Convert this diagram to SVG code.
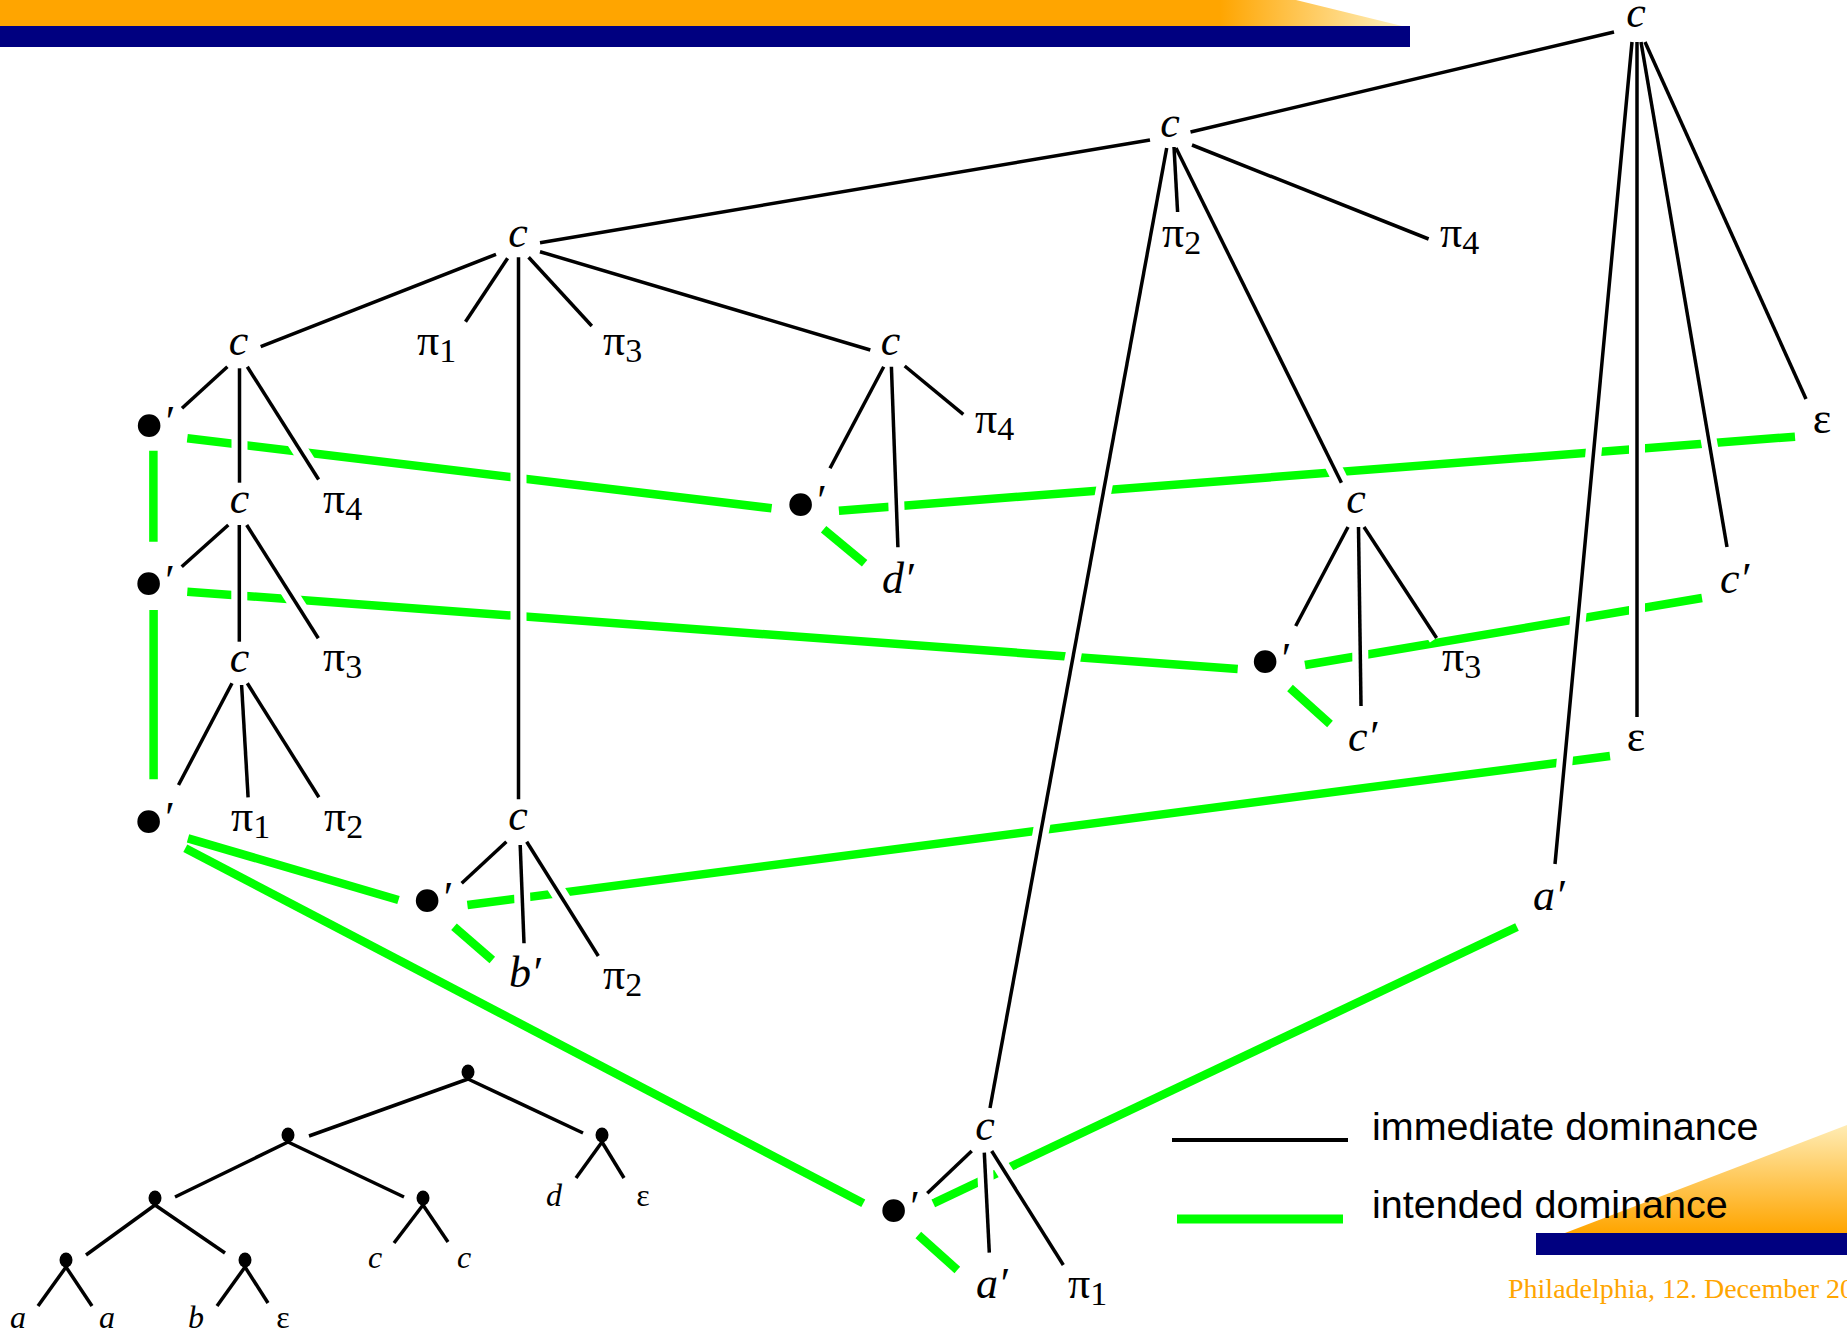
<svg xmlns="http://www.w3.org/2000/svg" xmlns:xlink="http://www.w3.org/1999/xlink" width="1847" height="1333" viewBox="0 0 1847 1333">
<style>
.e{stroke:#000;stroke-width:3.5;fill:none}
.h{stroke:#fff;stroke-width:16;fill:none}
.g{stroke:#00ff00;stroke-width:8.5;fill:none}
.k{stroke:#000;stroke-width:3.5;fill:none}
.t{font-family:"Liberation Serif","Times New Roman",serif;font-size:44px;fill:#000}
.i{font-style:italic}
.s{font-size:34px}
.b{font-size:95px}
.m{font-family:"Liberation Serif","Times New Roman",serif;font-size:32px;fill:#000}
.leg{font-family:"Liberation Sans",Arial,sans-serif;font-size:39.5px;fill:#000}
.foot{font-family:"Liberation Serif","Times New Roman",serif;font-size:28px;fill:#FFA500}
</style>
<defs>
<linearGradient id="topg" x1="0" y1="0" x2="1410" y2="0" gradientUnits="userSpaceOnUse">
<stop offset="0" stop-color="#FFA500"/><stop offset="0.865" stop-color="#FFA500"/><stop offset="1" stop-color="#FFF4C8"/>
</linearGradient>
<linearGradient id="botg" x1="0" y1="1125" x2="0" y2="1233" gradientUnits="userSpaceOnUse">
<stop offset="0" stop-color="#FFECB4"/><stop offset="1" stop-color="#FFA500"/>
</linearGradient>
<g id="blk">
<line x1="1614" y1="32" x2="1190.5" y2="132"/>
<line x1="1632" y1="42" x2="1555" y2="864"/>
<line x1="1637" y1="42" x2="1637" y2="717"/>
<line x1="1641" y1="42" x2="1727" y2="547"/>
<line x1="1645" y1="42" x2="1806" y2="399"/>
<line x1="1150" y1="140" x2="540" y2="242.7"/>
<line x1="1174" y1="147" x2="1177.6" y2="212"/>
<line x1="1166.7" y1="148" x2="990" y2="1108"/>
<line x1="1176" y1="148" x2="1341.4" y2="482.7"/>
<line x1="1192" y1="145" x2="1428.6" y2="239"/>
<line x1="496" y1="254.3" x2="260.7" y2="346.7"/>
<line x1="507.6" y1="258.3" x2="465.5" y2="321.7"/>
<line x1="518.5" y1="257.3" x2="518.5" y2="799.3"/>
<line x1="528.6" y1="257.3" x2="591.8" y2="326"/>
<line x1="540" y1="251.7" x2="870.3" y2="350"/>
<line x1="227.4" y1="366.7" x2="182" y2="408.3"/>
<line x1="239.5" y1="368.3" x2="239.5" y2="482.7"/>
<line x1="247.3" y1="366.7" x2="318.6" y2="479.5"/>
<line x1="228.3" y1="525" x2="181.7" y2="566.7"/>
<line x1="239.3" y1="525" x2="239.3" y2="641.7"/>
<line x1="246.7" y1="525" x2="318.3" y2="638.3"/>
<line x1="232" y1="683.3" x2="178.5" y2="785"/>
<line x1="241.6" y1="685" x2="248.1" y2="797.3"/>
<line x1="247.3" y1="683.3" x2="318.9" y2="797.3"/>
<line x1="506.4" y1="841.7" x2="461.7" y2="883.3"/>
<line x1="520.2" y1="845" x2="524" y2="943.3"/>
<line x1="526.7" y1="841.7" x2="598.3" y2="956"/>
<line x1="883.7" y1="366.7" x2="830" y2="468.3"/>
<line x1="891.4" y1="366.7" x2="897.9" y2="547.3"/>
<line x1="904.7" y1="366" x2="963.3" y2="414.3"/>
<line x1="1348" y1="527" x2="1295.7" y2="626"/>
<line x1="1358.5" y1="527" x2="1361" y2="706"/>
<line x1="1364" y1="527" x2="1436.6" y2="638"/>
<line x1="971.7" y1="1151" x2="927.3" y2="1193.3"/>
<line x1="984.3" y1="1152.7" x2="989.3" y2="1252.7"/>
<line x1="991.7" y1="1151" x2="1063.3" y2="1265"/>
</g>
</defs>

<g id="decoration">
<polygon points="0,0 1296,0 1402,26 0,26" fill="url(#topg)"/>
<rect x="0" y="26" width="1410" height="21" fill="#000080"/>
<polygon points="1565,1233 1847,1125 1847,1233" fill="url(#botg)"/>
<rect x="1536" y="1233" width="311" height="22" fill="#000080"/>
</g>

<g id="connectors">
<g class="g">
<line x1="187.3" y1="438.3" x2="771.6" y2="508.3"/>
<line x1="838.9" y1="510.7" x2="1795" y2="436.7"/>
<line x1="823.6" y1="529.3" x2="864.6" y2="563.3"/>
<line x1="153.4" y1="450.7" x2="153.4" y2="541.7"/>
<line x1="187.3" y1="591.7" x2="1237.7" y2="669"/>
<line x1="1305" y1="665" x2="1702" y2="598"/>
<line x1="1290" y1="688" x2="1330" y2="724"/>
<line x1="153.6" y1="610" x2="153.6" y2="779.3"/>
<line x1="188" y1="838.3" x2="398.5" y2="900"/>
<line x1="185.3" y1="848.3" x2="863.3" y2="1203.3"/>
<line x1="467.4" y1="905" x2="1610" y2="756"/>
<line x1="454" y1="926.7" x2="492.3" y2="960"/>
<line x1="933.3" y1="1203.3" x2="1517" y2="927"/>
<line x1="918.3" y1="1235" x2="957.3" y2="1270"/>
</g>
<use xlink:href="#blk" class="h"/>
<use xlink:href="#blk" class="e"/>
</g>

<g id="n-c-top"><text class="t i" x="1636" y="27" text-anchor="middle">c</text></g>
<g id="n-c2"><text class="t i" x="1170" y="137" text-anchor="middle">c</text></g>
<g id="n-pi2-a"><text class="t" x="1162" y="247">π<tspan class="s" dy="7">2</tspan></text></g>
<g id="n-pi4-a"><text class="t" x="1440" y="247">π<tspan class="s" dy="7">4</tspan></text></g>
<g id="n-c3"><text class="t i" x="518" y="247" text-anchor="middle">c</text></g>
<g id="n-pi1-a"><text class="t" x="417" y="355">π<tspan class="s" dy="7">1</tspan></text></g>
<g id="n-pi3-a"><text class="t" x="603" y="355">π<tspan class="s" dy="7">3</tspan></text></g>
<g id="n-cL1"><text class="t i" x="238.5" y="355" text-anchor="middle">c</text></g>
<g id="n-cR1"><text class="t i" x="890.5" y="355" text-anchor="middle">c</text></g>
<g id="n-pi4-b"><text class="t" x="975" y="433">π<tspan class="s" dy="7">4</tspan></text></g>
<g id="n-eps-a"><text class="t" x="1822" y="433" text-anchor="middle">ε</text></g>
<g id="n-bL1"><text class="t" x="132.6" y="436.3"><tspan class="b" dy="20.3">•</tspan><tspan dy="-20.3">′</tspan></text></g>
<g id="n-cL2"><text class="t i" x="239.5" y="513" text-anchor="middle">c</text></g>
<g id="n-pi4-c"><text class="t" x="323" y="513">π<tspan class="s" dy="7">4</tspan></text></g>
<g id="n-bM"><text class="t" x="784" y="515.3"><tspan class="b" dy="20.3">•</tspan><tspan dy="-20.3">′</tspan></text></g>
<g id="n-cR2"><text class="t i" x="1356" y="513" text-anchor="middle">c</text></g>
<g id="n-bL2"><text class="t" x="132" y="594.7"><tspan class="b" dy="20.3">•</tspan><tspan dy="-20.3">′</tspan></text></g>
<g id="n-dp"><text class="t i" x="882" y="593">d′</text></g>
<g id="n-cp-a"><text class="t i" x="1720" y="593">c′</text></g>
<g id="n-cL3"><text class="t i" x="239.5" y="672" text-anchor="middle">c</text></g>
<g id="n-pi3-b"><text class="t" x="323" y="671">π<tspan class="s" dy="7">3</tspan></text></g>
<g id="n-bR"><text class="t" x="1248.6" y="673"><tspan class="b" dy="20.3">•</tspan><tspan dy="-20.3">′</tspan></text></g>
<g id="n-pi3-c"><text class="t" x="1442" y="671">π<tspan class="s" dy="7">3</tspan></text></g>
<g id="n-cp-b"><text class="t i" x="1348" y="751">c′</text></g>
<g id="n-eps-b"><text class="t" x="1636" y="751" text-anchor="middle">ε</text></g>
<g id="n-bL3"><text class="t" x="132" y="832.3"><tspan class="b" dy="20.3">•</tspan><tspan dy="-20.3">′</tspan></text></g>
<g id="n-pi1-b"><text class="t" x="231" y="831">π<tspan class="s" dy="7">1</tspan></text></g>
<g id="n-pi2-b"><text class="t" x="324" y="831">π<tspan class="s" dy="7">2</tspan></text></g>
<g id="n-cU"><text class="t i" x="518" y="830" text-anchor="middle">c</text></g>
<g id="n-bU"><text class="t" x="410.6" y="912"><tspan class="b" dy="20.3">•</tspan><tspan dy="-20.3">′</tspan></text></g>
<g id="n-ap-a"><text class="t i" x="1533" y="910">a′</text></g>
<g id="n-bp"><text class="t i" x="509" y="987">b′</text></g>
<g id="n-pi2-c"><text class="t" x="603" y="989">π<tspan class="s" dy="7">2</tspan></text></g>
<g id="n-cB"><text class="t i" x="985" y="1140" text-anchor="middle">c</text></g>
<g id="n-bB"><text class="t" x="877" y="1221.3"><tspan class="b" dy="20.3">•</tspan><tspan dy="-20.3">′</tspan></text></g>
<g id="n-ap-b"><text class="t i" x="976" y="1298">a′</text></g>
<g id="n-pi1-c"><text class="t" x="1068" y="1298">π<tspan class="s" dy="7">1</tspan></text></g>

<g id="mini-tree">
<g class="k">
<line x1="468" y1="1079" x2="309" y2="1136"/>
<line x1="468" y1="1079" x2="583" y2="1133"/>
<line x1="288" y1="1142" x2="175" y2="1197"/>
<line x1="288" y1="1142" x2="404" y2="1197"/>
<line x1="602" y1="1142" x2="576" y2="1178"/>
<line x1="602" y1="1142" x2="624" y2="1178"/>
<line x1="423" y1="1205" x2="394" y2="1243"/>
<line x1="423" y1="1205" x2="448" y2="1242"/>
<line x1="155" y1="1205" x2="86" y2="1255"/>
<line x1="155" y1="1205" x2="225" y2="1253"/>
<line x1="66" y1="1267" x2="38" y2="1306"/>
<line x1="66" y1="1267" x2="92" y2="1306"/>
<line x1="245" y1="1267" x2="217" y2="1306"/>
<line x1="245" y1="1267" x2="268" y2="1303"/>
</g>
<g fill="#000">
<ellipse cx="468" cy="1072" rx="6.5" ry="7.5"/>
<ellipse cx="288" cy="1135" rx="6.5" ry="7.5"/>
<ellipse cx="602" cy="1135" rx="6.5" ry="7.5"/>
<ellipse cx="155" cy="1198" rx="6.5" ry="7.5"/>
<ellipse cx="423" cy="1198" rx="6.5" ry="7.5"/>
<ellipse cx="66" cy="1260" rx="6.5" ry="7.5"/>
<ellipse cx="245" cy="1260" rx="6.5" ry="7.5"/>
</g>
<text class="m i" x="18" y="1328" text-anchor="middle">a</text>
<text class="m i" x="107" y="1328" text-anchor="middle">a</text>
<text class="m i" x="196" y="1328" text-anchor="middle">b</text>
<text class="m" x="283" y="1328" text-anchor="middle">ε</text>
<text class="m i" x="375" y="1268" text-anchor="middle">c</text>
<text class="m i" x="464" y="1268" text-anchor="middle">c</text>
<text class="m i" x="554" y="1206" text-anchor="middle">d</text>
<text class="m" x="643" y="1206" text-anchor="middle">ε</text>
</g>

<g id="legend">
<line x1="1172" y1="1140" x2="1348" y2="1140" stroke="#000" stroke-width="4"/>
<line x1="1177" y1="1219" x2="1343" y2="1219" stroke="#00ff00" stroke-width="9"/>
<text class="leg" x="1372" y="1140">immediate dominance</text>
<text class="leg" x="1372" y="1218">intended dominance</text>
</g>

<text class="foot" x="1508" y="1298">Philadelphia, 12. December 20</text>
</svg>
